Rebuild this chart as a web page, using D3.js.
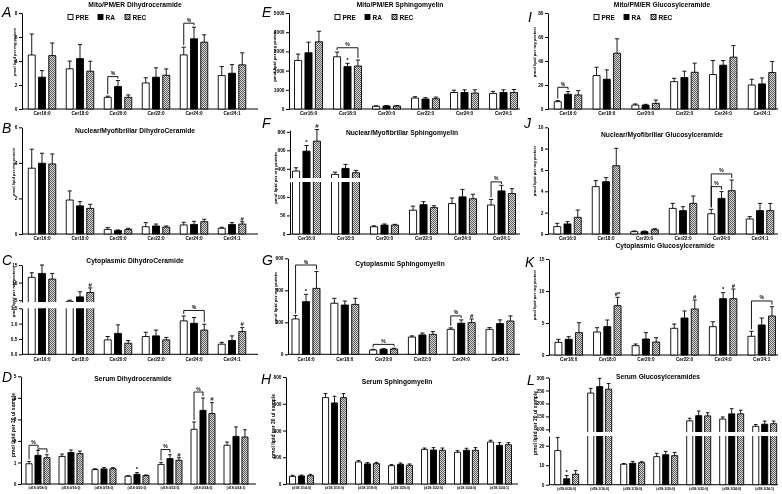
<!DOCTYPE html>
<html>
<head>
<meta charset="utf-8">
<script src="https://cdn.jsdelivr.net/npm/d3@7"></script>
<style>
  body { margin: 0; background: #fff; }
  #fig { will-change: transform; }
  text { font-family: Arial, "Liberation Sans", sans-serif; font-weight: bold; fill: #000; }
</style>
</head>
<body>
<svg id="fig" width="782" height="494"></svg>
<script>
const seriesNames = ["PRE", "RA", "REC"];
const cerCats = ["Cer16:0", "Cer18:0", "Cer20:0", "Cer22:0", "Cer24:0", "Cer24:1"];
const dCats = ["(d18:0/08:0)", "(d18:0/16:0)", "(d18:0/18:0)", "(d18:0/20:0)", "(d18:0/22:0)", "(d18:0/24:0)", "(d18:0/24:1)"];
const hCats = ["(d18:1/14:0)", "(d18:1/16:0)", "(d18:1/18:0)", "(d18:1/20:0)", "(d18:1/22:0)", "(d18:1/24:0)", "(d18:1/24:1)"];
const lCats = ["(d18:0/20:0)", "(d18:1/16:0)", "(d18:1/18:0)", "(d18:1/20:0)", "(d18:1/22:0)", "(d18:1/24:0)", "(d18:1/24:1)"];

// mean and error per category, columns = PRE, RA, REC
const aMean = [[4.5, 2.65, 4.45], [3.35, 4.2, 3.15], [0.97, 1.87, 0.97], [2.17, 2.65, 2.81], [4.51, 5.85, 5.57], [2.79, 2.98, 3.68]];
const aErr = [[1.75, 0.55, 1.05], [0.64, 1.17, 0.83], [0.1, 0.5, 0.2], [0.43, 0.78, 0.53], [0.64, 0.97, 0.61], [0.75, 0.72, 1.0]];
const bMean = [[3.7, 3.98, 3.94], [1.91, 1.58, 1.44], [0.26, 0.19, 0.26], [0.41, 0.45, 0.39], [0.51, 0.54, 0.69], [0.32, 0.53, 0.56]];
const bErr = [[1.07, 0.56, 0.56], [0.51, 0.24, 0.23], [0.1, 0.04, 0.06], [0.23, 0.11, 0.06], [0.15, 0.17, 0.14], [0.06, 0.11, 0.13]];
const cMean = [[11.5, 12.6, 11.0], [4.7, 5.95, 7.2], [0.47, 0.68, 0.36], [0.58, 0.6, 0.47], [1.09, 1.01, 0.79], [0.33, 0.45, 0.74]];
const cErr = [[1.3, 2.4, 1.6], [0.3, 1.45, 1.3], [0.11, 0.28, 0.09], [0.14, 0.19, 0.08], [0.16, 0.19, 0.19], [0.06, 0.15, 0.13]];
const dMean = [[0.94, 1.33, 1.22], [1.28, 1.46, 1.41], [0.67, 0.7, 0.71], [0.36, 0.45, 0.39], [0.91, 1.18, 1.1], [2.54, 3.42, 3.27], [1.8, 2.21, 2.18]];
const dErr = [[0.11, 0.23, 0.14], [0.11, 0.12, 0.12], [0.04, 0.07, 0.05], [0.03, 0.08, 0.03], [0.09, 0.18, 0.12], [0.34, 0.57, 0.51], [0.15, 0.44, 0.34]];
const eMean = [[2530, 2930, 3500], [2720, 2210, 2240], [140, 155, 155], [570, 520, 535], [860, 860, 830], [810, 860, 860]];
const eErr = [[330, 550, 550], [245, 170, 310], [25, 20, 25], [70, 70, 85], [120, 140, 170], [105, 140, 155]];
const fMean = [[375, 591, 699], [339, 404, 357], [19.6, 24, 24], [64, 79, 71], [82, 100, 95], [78, 116, 109]];
const fErr = [[36, 61, 126], [25, 43, 25], [2.4, 3, 2], [11, 8, 5], [15, 20, 12], [15, 15, 13]];
const gMean = [[221, 329, 412], [319, 308, 312], [27, 31, 33], [108, 121, 125], [156, 194, 198], [156, 192, 208]];
const gErr = [[21, 46, 105], [31, 25, 38], [4, 4, 5], [7, 12, 17], [9, 21, 23], [11, 23, 32]];
const hMean = [[57, 60, 62], [646, 606, 646], [165, 150, 152], [137, 147, 140], [259, 254, 252], [237, 252, 252], [314, 289, 294]];
const hErr = [[8, 7, 10], [30, 50, 30], [10, 10, 10], [8, 10, 10], [10, 18, 17], [12, 15, 20], [13, 20, 15]];
const iMean = [[6.1, 12.3, 11.7], [27.9, 24.8, 46.5], [3.3, 3.3, 4.7], [22.8, 26.2, 30.6], [28.7, 36.5, 43.2], [20, 20.9, 30.4]];
const iErr = [[0.9, 2.2, 3.6], [6.9, 7.8, 12], [0.9, 0.6, 2.8], [2.8, 5.3, 7.6], [11.7, 3.9, 9.7], [4.8, 5, 9.2]];
const jMean = [[0.69, 0.94, 1.56], [4.44, 4.9, 6.4], [0.22, 0.22, 0.4], [2.4, 2.19, 2.87], [1.9, 3.34, 4.06], [1.41, 2.19, 2.19]];
const jErr = [[0.31, 0.22, 0.69], [0.56, 0.38, 1.63], [0.06, 0.06, 0.1], [0.47, 0.37, 0.69], [0.41, 0.63, 1.0], [0.22, 0.68, 0.68]];
const kMean = [[1.98, 2.45, 3.49], [3.59, 4.43, 7.71], [1.46, 2.5, 2.03], [4.17, 5.78, 7.19], [4.43, 8.8, 8.8], [2.92, 4.69, 6.09]];
const kErr = [[0.47, 0.41, 1.56], [0.68, 1.04, 1.3], [0.26, 0.99, 0.68], [0.67, 1.1, 1.4], [0.77, 0.94, 1.51], [0.78, 1.09, 1.46]];
const lMean = [[17.5, 3.05, 5.4], [240, 265, 255], [10.5, 11, 11.3], [14.4, 15.4, 14.9], [133, 153, 152], [140, 160, 160], [112, 120, 122]];
const lErr = [[6.7, 1.65, 1.9], [18, 32, 22], [0.4, 1, 0.5], [1.7, 1.7, 1.7], [10, 18, 12], [8, 20, 14], [7, 12, 10]];

// brackets: [category, from series, to series, height, label]; marks: [category, series, symbol]
const aBr = [[2, 0, 1, 2.7, "%"], [4, 0, 1, 7.15, "%"]];
const bSig = [[5, 2, "#"]];
const cBr = [[4, 0, 2, 1.43, "%"]];
const cSig = [[1, 2, "#"], [5, 2, "#"]];
const dBr = [[0, 0, 1, 1.8, "%"], [0, 1, 2, 1.63, ""], [4, 0, 1, 1.6, "%"], [5, 0, 1, 4.27, "%"]];
const dSig = [[3, 1, "*"], [4, 2, "#"], [5, 2, "#"]];
const eBr = [[1, 0, 2, 3190, "%"]];
const eSig = [[1, 1, "*"]];
const fBr = [[5, 0, 1, 145, "%"]];
const fSig = [[0, 1, "*"], [0, 2, "#"]];
const gBr = [[0, 0, 2, 558, "%"], [2, 0, 2, 62, "%"], [4, 0, 1, 240, "%"]];
const gSig = [[0, 1, "*"], [4, 2, "#"]];
const iBr = [[0, 0, 1, 18.1, "%"]];
const jBr = [[4, 0, 2, 5.63, "%"], [4, 0, 1, 4.44, "%"]];
const kBr = [[5, 0, 2, 8.44, "%"]];
const kSig = [[1, 2, "#*"], [3, 2, "#"], [4, 1, "*"], [4, 2, "#"]];
const lSig = [[0, 1, "*"]];

const aTicks = [0, 2, 4, 6, 8];
const bTicks = [0, 2, 4, 6];
const cTicksLo = [0, 0.5, 1, 1.5];
const cTicksHi = [5, 10, 15];
const dTicks = [0, 1, 2, 3, 4, 5];
const eTicks = [0, 1000, 2000, 3000, 4000, 5000];
const fTicksLo = [0, 50, 100];
const fTicksHi = [400, 600, 800];
const gTicks = [0, 200, 400, 600];
const hTicks = [0, 200, 400, 600, 800];
const iTicks = [0, 20, 40, 60, 80];
const jTicks = [0, 2, 4, 6, 8, 10];
const kTicks = [0, 5, 10, 15];
const lTicksLo = [0, 10, 20];
const lTicksHi = [100, 150, 200, 250, 300];

const perMg = "pmol lipid per mg protein";
const per20 = "pmol lipid per 20 ul sample";

const svg = d3.select("#fig");
svg.append("rect").attr("width", 782).attr("height", 494).attr("fill", "#fff");
const pat = svg.append("defs").append("pattern").attr("id", "rec")
  .attr("width", 2).attr("height", 2).attr("patternUnits", "userSpaceOnUse");
pat.append("rect").attr("width", 2).attr("height", 2).attr("fill", "#dadada");
pat.append("rect").attr("width", 1).attr("height", 1).attr("fill", "#5a5a5a");
pat.append("rect").attr("x", 1).attr("y", 1).attr("width", 1).attr("height", 1).attr("fill", "#5a5a5a");
const fills = ["#fff", "#000", "url(#rec)"];

const panels = [
  { L: "A", lx: 2, ly: 17, title: "Mito/PM/ER Dihydroceramide", tx: 135, ty: 7, cats: cerCats, mean: aMean, err: aErr, br: aBr, sig: [],
    ax: 22, off: 20, step: 38, gw: 27.5, xEnd: 258, segs: [{ d: [0, 8], r: [109, 13], t: aTicks }], ylab: perMg, ylx: 15, yly: 52, yfs: 4, legend: true },
  { L: "B", lx: 2, ly: 133, title: "Nuclear/Myofibrillar DihydroCeramide", tx: 135, ty: 133, cats: cerCats, mean: bMean, err: bErr, br: [], sig: bSig,
    ax: 22, off: 20, step: 38, gw: 27.5, xEnd: 258, segs: [{ d: [0, 6], r: [234, 127.3], t: bTicks }], ylab: perMg, ylx: 14, yly: 172, yfs: 4 },
  { L: "C", lx: 2, ly: 265, title: "Cytoplasmic DihydroCeramide", tx: 135, ty: 262.5, cats: cerCats, mean: cMean, err: cErr, br: cBr, sig: cSig,
    ax: 22, off: 20, step: 38, gw: 27.5, xEnd: 258,
    segs: [{ d: [0, 1.5], r: [354.3, 308.3], t: cTicksLo, f: ".1f" }, { d: [4.5, 15], r: [302, 265], t: cTicksHi }], ylab: perMg, ylx: 14, yly: 292, yfs: 4.2 },
  { L: "D", lx: 2, ly: 382, title: "Serum Dihydroceramide", tx: 133, ty: 380.5, cats: dCats, mean: dMean, err: dErr, br: dBr, sig: dSig,
    ax: 21, off: 17, step: 33, gw: 24, xEnd: 256, segs: [{ d: [0, 5], r: [484, 376.3], t: dTicks }], ylab: per20, ylx: 13, yly: 425, yfs: 5, small: true },

  { L: "E", lx: 262, ly: 17, title: "Mito/PM/ER Sphingomyelin", tx: 400, ty: 7, cats: cerCats, mean: eMean, err: eErr, br: eBr, sig: eSig,
    ax: 289, off: 19.5, step: 39, gw: 28, xEnd: 520, segs: [{ d: [0, 5000], r: [109, 13], t: eTicks }], ylab: perMg, ylx: 274, yly: 56, yfs: 4.3, legend: true },
  { L: "F", lx: 262, ly: 128, title: "Nuclear/Myofibrillar Sphingomyelin", tx: 402, ty: 135, cats: cerCats, mean: fMean, err: fErr, br: fBr, sig: fSig,
    ax: 290, off: 16.5, step: 39, gw: 28, xEnd: 520,
    segs: [{ d: [0, 140], r: [234, 182], t: fTicksLo }, { d: [300, 820], r: [178, 130], t: fTicksHi }], ylab: perMg, ylx: 275, yly: 178, yfs: 4.3 },
  { L: "G", lx: 262, ly: 265, title: "Cytoplasmic Sphingomyelin", tx: 400, ty: 266, cats: cerCats, mean: gMean, err: gErr, br: gBr, sig: gSig,
    ax: 288, off: 18, step: 38.8, gw: 28, xEnd: 520, segs: [{ d: [0, 600], r: [354.3, 258.3], t: gTicks }], ylab: perMg, ylx: 275, yly: 298, yfs: 4.3 },
  { L: "H", lx: 261, ly: 384, title: "Serum Sphingomyelin", tx: 397, ty: 384, cats: hCats, mean: hMean, err: hErr, br: [], sig: [],
    ax: 286, off: 15.5, step: 33, gw: 24, xEnd: 518, segs: [{ d: [0, 800], r: [484, 377], t: hTicks }], ylab: per20, ylx: 273, yly: 426, yfs: 5, small: true },

  { L: "I", lx: 528, ly: 22, title: "Mito/PM/ER Glucosylceramide", tx: 662, ty: 7, cats: cerCats, mean: iMean, err: iErr, br: iBr, sig: [],
    ax: 548, off: 20, step: 38.8, gw: 27.5, xEnd: 778, segs: [{ d: [0, 80], r: [109, 13], t: iTicks }], ylab: perMg, ylx: 535, yly: 52, yfs: 4.2, legend: true },
  { L: "J", lx: 524, ly: 128, title: "Nuclear/Myofibrillar Glucosylceramide", tx: 662, ty: 137, cats: cerCats, mean: jMean, err: jErr, br: jBr, sig: [],
    ax: 548, off: 19.5, step: 38.5, gw: 27.5, xEnd: 778, segs: [{ d: [0, 10], r: [234, 127.3], t: jTicks }], ylab: perMg, ylx: 535, yly: 171, yfs: 4.2 },
  { L: "K", lx: 525, ly: 267, title: "Cytoplasmic Glucosylceramide", tx: 665, ty: 247.5, cats: cerCats, mean: kMean, err: kErr, br: kBr, sig: kSig,
    ax: 549, off: 19.7, step: 38.6, gw: 27.5, xEnd: 778, segs: [{ d: [0, 15], r: [355, 259], t: kTicks }], ylab: perMg, ylx: 535, yly: 295, yfs: 4.2 },
  { L: "L", lx: 527, ly: 385, title: "Serum Glucosylceramides", tx: 658, ty: 379, cats: lCats, mean: lMean, err: lErr, br: [], sig: lSig,
    ax: 549, off: 17.7, step: 33, gw: 24, xEnd: 778,
    segs: [{ d: [0, 25], r: [484.7, 436], t: lTicksLo }, { d: [90, 300], r: [432, 377.5], t: lTicksHi }], ylab: per20, ylx: 535, yly: 423, yfs: 5, small: true }
];

function drawPanel(p) {
  const g = svg.append("g");
  const n = p.cats.length;
  const start = p.ax + p.off - p.step / 2;
  const x0 = d3.scaleBand().domain(p.cats).range([start, start + n * p.step]);
  const x1 = d3.scaleBand().domain(seriesNames).range([-p.gw / 2, p.gw / 2]).paddingInner(0.32);
  const bw = x1.bandwidth();
  const scales = p.segs.map(s => d3.scaleLinear().domain(s.d).range(s.r));
  const lo = p.segs[0], hi = p.segs[1];
  const gap = hi ? d3.scaleLinear().domain([lo.d[1], hi.d[0]]).range([lo.r[1], hi.r[0]]) : null;
  const y = v => (!hi || v <= lo.d[1]) ? scales[0](v) : (v >= hi.d[0] ? scales[1](v) : gap(v));
  const cx = (i, j) => x0(p.cats[i]) + p.step / 2 + x1(seriesNames[j]) + bw / 2;
  const base = lo.r[0];

  // y axis segments
  p.segs.forEach((s, k) => {
    const a = g.append("g").attr("transform", `translate(${p.ax},0)`)
      .call(d3.axisLeft(scales[k]).tickValues(s.t).tickSize(3).tickSizeOuter(0).tickPadding(1.5)
        .tickFormat(d3.format(s.f || "d")));
    a.selectAll("path, line").attr("stroke", "#000").attr("stroke-width", 1);
    a.selectAll("text").style("font-size", "4.8px").style("font-weight", "bold").attr("fill", "#000");
  });

  // x axis
  g.append("line").attr("x1", p.ax).attr("x2", p.xEnd).attr("y1", base).attr("y2", base)
    .attr("stroke", "#000").attr("stroke-width", 1);
  g.selectAll("text.cat").data(p.cats).enter().append("text")
    .attr("x", d => x0(d) + p.step / 2)
    .attr("y", base + (p.small ? 5.3 : 6.2))
    .attr("text-anchor", "middle")
    .style("font-size", p.small ? "3.4px" : "4.7px")
    .text(d => d);

  // bars
  p.mean.forEach((row, i) => {
    row.forEach((v, j) => {
      const xl = cx(i, j) - bw / 2, xr = xl + bw;
      p.segs.forEach((s, k) => {
        if (v <= s.d[0]) return;
        const yb = scales[k](s.d[0]);
        const yt = scales[k](Math.min(v, s.d[1]));
        const openTop = v > s.d[1];
        g.append("rect").attr("x", xl).attr("y", yt).attr("width", bw).attr("height", yb - yt).attr("fill", fills[j]);
        const path = `M${xl},${yb}V${yt}` + (openTop ? `M${xr},${yt}` : `H${xr}`) + `V${yb}` + (k === 0 ? `H${xl}` : "");
        g.append("path").attr("d", path).attr("fill", "none").attr("stroke", "#000").attr("stroke-width", 0.9);
      });
      // error bar (upper only)
      const ye = y(v + p.err[i][j]);
      g.append("line").attr("x1", cx(i, j)).attr("x2", cx(i, j)).attr("y1", y(v)).attr("y2", ye)
        .attr("stroke", "#000").attr("stroke-width", 0.9);
      g.append("line").attr("x1", cx(i, j) - bw * 0.3).attr("x2", cx(i, j) + bw * 0.3).attr("y1", ye).attr("y2", ye)
        .attr("stroke", "#000").attr("stroke-width", 0.9);
    });
  });

  // significance symbols
  p.sig.forEach(([i, j, t]) => {
    g.append("text").attr("x", cx(i, j)).attr("y", y(p.mean[i][j] + p.err[i][j]) - 1.2)
      .attr("text-anchor", "middle").style("font-size", "6px").text(t);
  });

  // brackets
  p.br.forEach(([i, s1, s2, val, lab]) => {
    const xa = cx(i, s1), xb = cx(i, s2), hy = y(val);
    const ya = Math.max(hy + 2, y(p.mean[i][s1] + p.err[i][s1]) - 2);
    const yb = Math.max(hy + 2, y(p.mean[i][s2] + p.err[i][s2]) - 2);
    g.append("path").attr("d", `M${xa},${ya}V${hy}H${xb}V${yb}`)
      .attr("fill", "none").attr("stroke", "#000").attr("stroke-width", 0.9);
    if (lab) g.append("text").attr("x", (xa + xb) / 2).attr("y", hy - 1.5)
      .attr("text-anchor", "middle").style("font-size", "5px").text(lab);
  });

  // title, panel letter, y label
  g.append("text").attr("x", p.tx).attr("y", p.ty).attr("text-anchor", "middle").style("font-size", "6.7px").text(p.title);
  g.append("text").attr("x", p.lx).attr("y", p.ly).style("font-size", "14px").style("font-weight", "normal")
    .style("font-style", "italic").text(p.L);
  g.append("text").attr("transform", `translate(${p.ylx},${p.yly}) rotate(-90)`).attr("dy", "0.35em")
    .attr("text-anchor", "middle").style("font-size", p.yfs + "px").text(p.ylab);

  if (p.legend) {
    [46, 76, 103].forEach((dx, j) => {
      g.append("rect").attr("x", p.ax + dx).attr("y", 14.5).attr("width", 5).attr("height", 5)
        .attr("fill", fills[j]).attr("stroke", "#000").attr("stroke-width", 0.9);
      g.append("text").attr("x", p.ax + dx + 7.5).attr("y", 19.5).style("font-size", "6.5px").text(seriesNames[j]);
    });
  }
}

panels.forEach(drawPanel);
</script>
</body>
</html>
